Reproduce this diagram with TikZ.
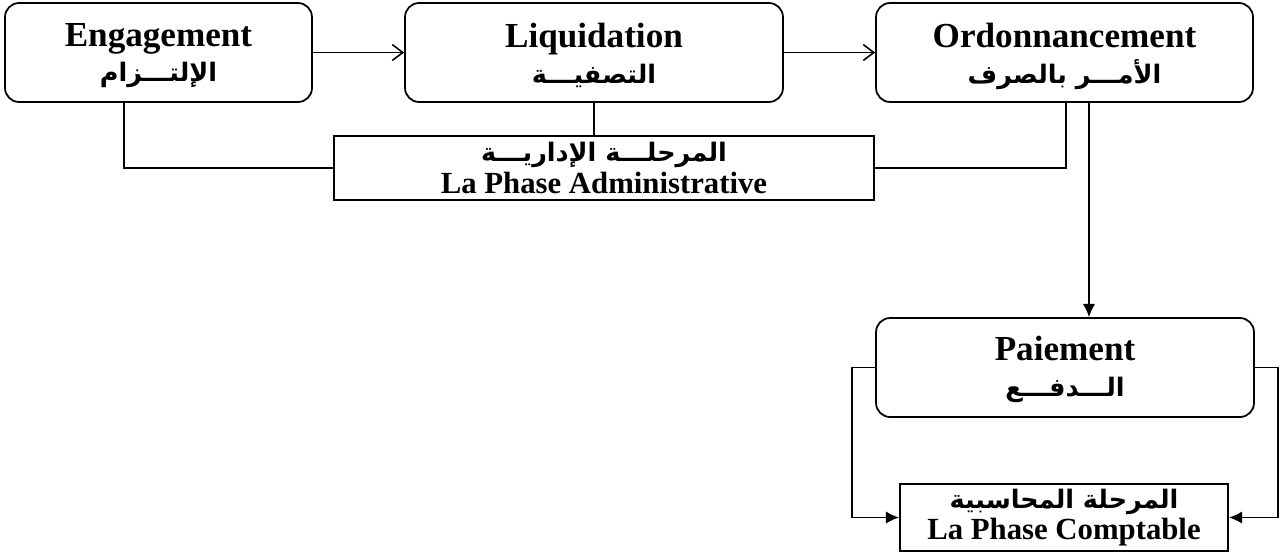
\documentclass[tikz,border=0pt]{standalone}
\usepackage{fontspec}
\setmainfont{Liberation Serif}
\newfontfamily\arabicfont[Script=Arabic]{DejaVu Sans}
\TeXXeTstate=1
\usepackage{tikz}
\usetikzlibrary{positioning}
\usetikzlibrary{arrows.meta}

\newcommand{\ar}[1]{{\arabicfont\bfseries\fontsize{14.5}{16}\selectfont\beginR #1\endR}}

\begin{document}
\begin{tikzpicture}[
			x=0.02cm, y=-0.02cm,
			stepbox/.style={
					draw,
					rounded corners=8pt,
					line width=1pt,
					minimum width=7.56cm,
					minimum height=1.98cm
				},
			phasebox/.style={
					draw,
					line width=1.1pt,
					align=center,
					inner sep=0pt
				},
			lbl/.style={
					align=center,
					inner sep=0pt,
					font=\bfseries\fontsize{20}{22}\selectfont
				},
			link/.style={line width=0.9pt},
			barb/.style={-{Straight Barb[length=6pt,width=9pt,line width=0.9pt]}},
			tip/.style={-{Latex[length=7.5pt,width=7pt]}}
		]
		\useasboundingbox (0,0) rectangle (1280,556);

		% the four steps
		\node[stepbox, minimum width=6.14cm] (eng) at (158.5, 52.5) {};
		\node[stepbox] (liq) at (594, 52.5) {};
		\node[stepbox, minimum width=7.54cm] (ord) at (1064.5, 52.5) {};
		\node[stepbox] (pay) at (1065, 367.5) {};

		\node[lbl, below=0.42cm of eng.north] (engt) {Engagement\\[-2pt] \ar{الإلتـــزام}};
		\node[lbl, below=0.42cm of liq.north] (liqt) {Liquidation\\[-2pt] \ar{التصفيـــة}};
		\node[lbl, below=0.42cm of ord.north] (ordt) {Ordonnancement\\[-2pt] \ar{الأمـــر بالصرف}};
		\node[lbl, below=0.38cm of pay.north] (payt) {Paiement\\[-2pt] \ar{الـــدفـــع}};

		% the two phases
		\node[phasebox, minimum width=10.82cm, minimum height=1.28cm,
			font=\bfseries\fontsize{17.5}{19}\selectfont] (adm) at (604, 168)
		{\ar{المرحلـــة الإداريـــة}\\[-1pt] La Phase Administrative};
		\node[phasebox, minimum width=6.56cm, minimum height=1.34cm,
			font=\bfseries\fontsize{17.5}{19}\selectfont] (cpt) at (1064, 517.5)
		{\ar{المرحلة المحاسبية}\\[-1pt] La Phase Comptable};

		\draw[link, barb] (eng) -- (liq);
		\draw[link, barb] (liq) -- (ord);
		\draw[link] ([xshift=-0.69cm]eng.south) |- (adm.west);
		\draw[link] (liq.south) -- (liq.south |- adm.north);
		\draw[link] ([xshift=0.03cm]ord.south) |- (adm.east);
		\draw[link, tip] ([xshift=0.49cm]ord.south) -- ([xshift=0.48cm]pay.north);
		\draw[link, tip] (pay.west) -- ++(-0.46cm,0) |- (cpt.west);
		\draw[link, tip] (pay.east) -- ++(0.46cm,0) |- (cpt.east);

	\end{tikzpicture}
\end{document}
